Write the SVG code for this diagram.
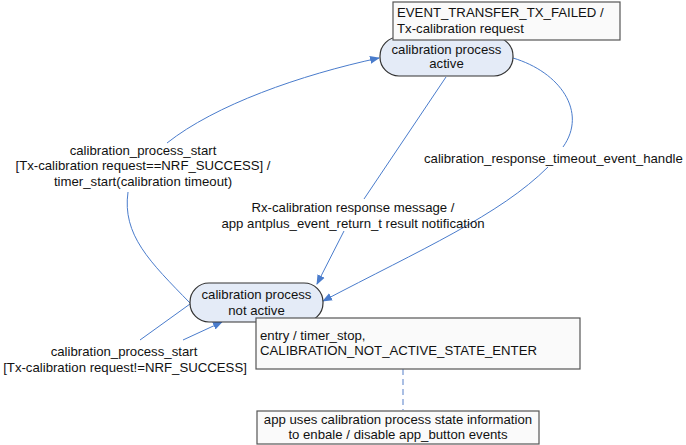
<svg xmlns="http://www.w3.org/2000/svg" width="686" height="445" viewBox="0 0 686 445">
<defs>
<marker id="arr" viewBox="0 0 10 10" refX="9" refY="5" markerWidth="10" markerHeight="10" markerUnits="userSpaceOnUse" orient="auto">
<path d="M0,1 L10,5 L0,9 Z" fill="#4a7ccc"/>
</marker>
<style>
text{font-family:"Liberation Sans",Arial,sans-serif;font-size:13.2px;fill:#111}
.state{fill:#e4ebf7;stroke:#333;stroke-width:1.2}
.note{fill:#fafafa;stroke:#555;stroke-width:1.2}
.c{fill:none;stroke:#4a7ccc;stroke-width:1}
.m{text-anchor:middle}
</style>
</defs>
<rect width="686" height="445" fill="#fff"/>
<g id="connectors">
<path class="c" d="M167,143 C215,105 300,75 379,58" marker-end="url(#arr)"/>
<path class="c" d="M190,303 C150,262 122,235 128,192"/>
<path class="c" d="M190,304 L140,340"/>
<path class="c" d="M183,340 L222,322" marker-end="url(#arr)"/>
<path class="c" d="M446,77 L364,199"/>
<path class="c" d="M344,231 L317,284" marker-end="url(#arr)"/>
<path class="c" d="M513,58 C560,72 588,112 563,147"/>
<path class="c" d="M548,167 C500,215 420,250 323,301" marker-end="url(#arr)"/>
<path d="M403,369 L403,410" fill="none" stroke="#8eaadb" stroke-width="1.5" stroke-dasharray="6,4"/>
</g>
<g id="labels">
<text class="m" x="143" y="155">calibration_process_start</text>
<text class="m" x="143" y="170">[Tx-calibration request==NRF_SUCCESS] /</text>
<text class="m" x="143" y="186">timer_start(calibration timeout)</text>
<text class="m" x="124" y="356">calibration_process_start</text>
<text class="m" x="125" y="372">[Tx-calibration request!=NRF_SUCCESS]</text>
<text class="m" x="353" y="212">Rx-calibration response message /</text>
<text class="m" x="353" y="228">app antplus_event_return_t result notification</text>
<text x="424" y="163">calibration_response_timeout_event_handle</text>
</g>
<g id="active">
<rect class="state" x="380" y="37" width="133" height="39" rx="19" ry="19"/>
<text class="m" x="446.5" y="54">calibration process</text>
<text class="m" x="446.5" y="68">active</text>
</g>
<g id="note-active">
<rect class="note" x="393" y="2" width="227" height="38"/>
<text x="397" y="17">EVENT_TRANSFER_TX_FAILED /</text>
<text x="397" y="33">Tx-calibration request</text>
</g>
<g id="not-active">
<rect class="state" x="190" y="283" width="133" height="39" rx="19" ry="19"/>
<text class="m" x="256.5" y="299">calibration process</text>
<text class="m" x="256.5" y="315">not active</text>
</g>
<g id="note-entry">
<rect class="note" x="256" y="318" width="324" height="51"/>
<text x="260" y="340">entry / timer_stop,</text>
<text x="260" y="355">CALIBRATION_NOT_ACTIVE_STATE_ENTER</text>
</g>
<g id="note-app">
<rect class="note" x="257" y="411" width="282" height="33"/>
<text class="m" x="398" y="424">app uses calibration process state information</text>
<text class="m" x="398" y="439">to enbale / disable app_button events</text>
</g>
</svg>
